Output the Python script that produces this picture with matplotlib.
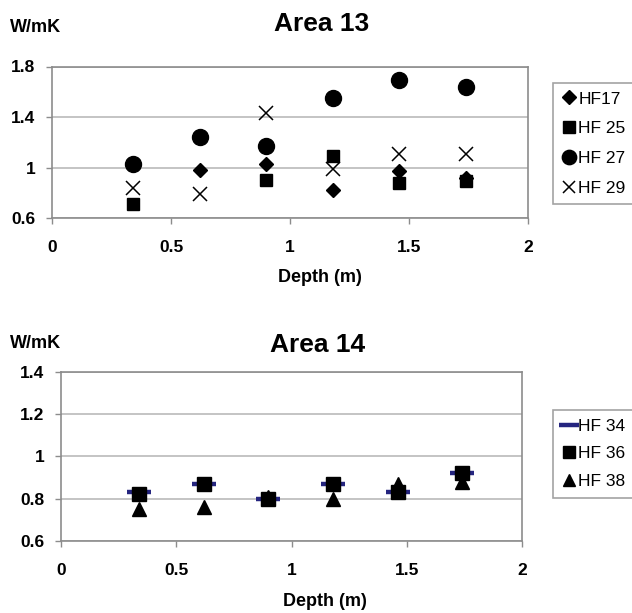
import matplotlib
matplotlib.use('Agg')

import matplotlib.pyplot as plt
import numpy as np
from matplotlib.ticker import FormatStrFormatter

plt.rcParams['font.family'] = ['Liberation Sans', 'DejaVu Sans']

W, H = 632, 613

# depths (m) of the samples
depth = [0.34, 0.62, 0.90, 1.18, 1.46, 1.74]

# Area 13 (W/mK)
hf17 = [1.03, 0.98, 1.03, 0.82, 0.97, 0.92]
hf25 = [0.71, np.nan, 0.90, 1.09, 0.88, 0.89]
hf27 = [1.03, 1.24, 1.17, 1.55, 1.69, 1.64]
hf29 = [0.84, 0.79, 1.43, 0.99, 1.11, 1.11]

# Area 14 (W/mK)
hf34 = [0.83, 0.87, 0.80, 0.87, 0.83, 0.92]
hf36 = [0.82, 0.87, 0.80, 0.87, 0.83, 0.92]
hf38 = [0.75, 0.76, 0.81, 0.80, 0.87, 0.88]

x_ticks = [0, 0.5, 1, 1.5, 2]
y_ticks_13 = [0.6, 1.0, 1.4, 1.8]
y_ticks_14 = [0.6, 0.8, 1.0, 1.2, 1.4]

GRAY = '#8c8c8c'
GRID = '#b4b4b4'
NAVY = '#25257f'


def px_rect(x0, y0, x1, y1):
    # pixel box (top-left origin) -> figure fraction rect
    return [x0 / W, 1 - y1 / H, (x1 - x0) / W, (y1 - y0) / H]


def fx(x):
    return x / W


def fy(y):
    return 1 - y / H


def style_axes(ax, yticks):
    ax.set_xlim(0, 2)
    ax.set_ylim(yticks[0], yticks[-1])
    ax.set_xticks(x_ticks)
    ax.set_yticks(yticks)
    ax.xaxis.set_major_formatter(FormatStrFormatter('%g'))
    ax.yaxis.set_major_formatter(FormatStrFormatter('%g'))
    for s in ax.spines.values():
        s.set_color(GRAY)
        s.set_linewidth(1.2)
    ax.yaxis.grid(True, color=GRID, linewidth=1.1)
    ax.set_axisbelow(True)
    ax.tick_params(axis='both', colors=GRAY, length=4, width=1,
                   labelcolor='black', labelsize=12.5)
    ax.tick_params(axis='x', pad=12)
    ax.tick_params(axis='y', pad=8)
    for lab in ax.get_xticklabels() + ax.get_yticklabels():
        lab.set_fontweight('bold')


fig = plt.figure(figsize=(W / 100, H / 100), dpi=100)

# ---- Area 13
ax1 = fig.add_axes(px_rect(52, 66.5, 528, 218))
ax1.plot(depth, hf17, 'D', color='black', markersize=7.5, linestyle='none', label='HF17')
ax1.plot(depth, hf25, 's', color='black', markersize=9, linestyle='none', label='HF 25')
ax1.plot(depth, hf27, 'o', color='black', markersize=11.5, linestyle='none', label='HF 27')
ax1.plot(depth, hf29, 'x', color='black', markersize=10, markeredgewidth=1.1,
         linestyle='none', label='HF 29')
style_axes(ax1, y_ticks_13)

fig.text(fx(322), fy(24), 'Area 13', ha='center', va='center',
         fontsize=19, fontweight='bold')
fig.text(fx(10), fy(28), 'W/mK', ha='left', va='center', fontsize=13, fontweight='bold')
fig.text(fx(320), fy(278), 'Depth (m)', ha='center', va='center',
         fontsize=13, fontweight='bold')

leg1 = fig.legend(*ax1.get_legend_handles_labels(), loc='upper left',
                  bbox_to_anchor=(fx(553), fy(82.7)), borderaxespad=0,
                  fontsize=12.5, handlelength=0.8, handletextpad=0.15,
                  labelspacing=0.84, borderpad=0.5, fancybox=False,
                  frameon=True, edgecolor=GRAY, markerscale=0.9)
leg1.get_frame().set_linewidth(1.2)

# ---- Area 14
ax2 = fig.add_axes(px_rect(61, 371.5, 522, 541))
ax2.plot(depth, hf34, '_', color=NAVY, markersize=17, markeredgewidth=3.2,
         linestyle='none', label='HF 34')
ax2.plot(depth, hf36, 's', color='black', markersize=9.5, linestyle='none', label='HF 36')
ax2.plot(depth, hf38, '^', color='black', markersize=10, linestyle='none', label='HF 38')
style_axes(ax2, y_ticks_14)

fig.text(fx(318), fy(345), 'Area 14', ha='center', va='center',
         fontsize=19, fontweight='bold')
fig.text(fx(10), fy(343), 'W/mK', ha='left', va='center', fontsize=13, fontweight='bold')
fig.text(fx(325), fy(602), 'Depth (m)', ha='center', va='center',
         fontsize=13, fontweight='bold')

leg2 = fig.legend(*ax2.get_legend_handles_labels(), loc='upper left',
                  bbox_to_anchor=(fx(553.3), fy(410)), borderaxespad=0,
                  fontsize=12.5, handlelength=0.8, handletextpad=0.15,
                  labelspacing=0.72, borderpad=0.5, fancybox=False,
                  frameon=True, edgecolor=GRAY, markerscale=0.85)
leg2.get_frame().set_linewidth(1.2)

fig.savefig('out.png', dpi=100)
